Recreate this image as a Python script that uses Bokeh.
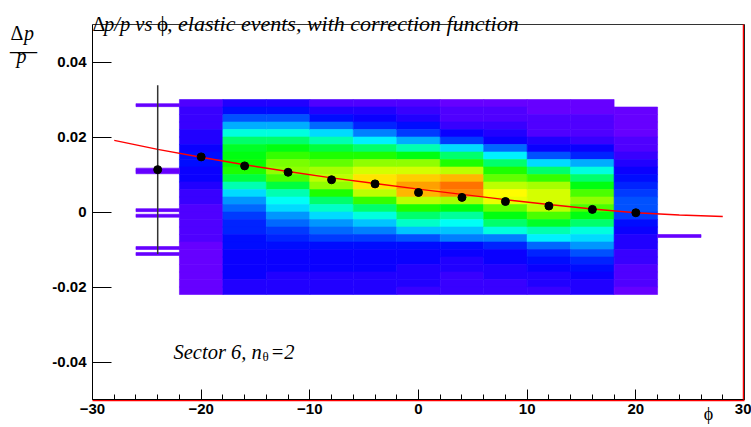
import colorsys

from bokeh.embed import file_html
from bokeh.models import ColumnDataSource, FixedTicker, Label, LinearAxis, Range1d
from bokeh.plotting import figure
from bokeh.resources import INLINE

# ---- 2D histogram: dp/p vs phi (4-degree phi bins, 0.002 dp/p bins) ----
col_left = [-22, -18, -14, -10, -6, -2, 2, 6, 10, 14, 18]
col_width = 4
dp_top = 0.030
dp_step = 0.002

# counts per dp/p bin, listed from dp/p = 0.030 down to -0.022
counts_m20 = [3, 5, 6, 6, 7, 8, 10, 11, 11, 10, 9, 7, 6, 5, 4, 4, 3, 3, 3, 2, 2, 2, 2, 2, 1, 1]
counts_m16 = [8, 12, 18, 25, 35, 45, 52, 55, 57, 58, 50, 40, 30, 24, 20, 16, 14, 13, 12, 11, 10, 10, 9, 9, 8, 7]
counts_m12 = [8, 12, 18, 25, 35, 45, 55, 60, 66, 68, 62, 50, 40, 33, 30, 24, 20, 16, 13, 11, 10, 9, 9, 8, 8, 7]
counts_m8 = [4, 7, 12, 20, 30, 40, 50, 58, 65, 70, 72, 68, 58, 45, 38, 30, 24, 20, 15, 12, 10, 10, 9, 8, 8, 7]
counts_m4 = [4, 7, 10, 14, 22, 32, 45, 58, 68, 75, 80, 80, 72, 60, 45, 35, 28, 22, 16, 12, 10, 9, 9, 8, 8, 7]
counts_0 = [3, 5, 8, 12, 16, 25, 40, 55, 68, 75, 82, 86, 84, 72, 58, 46, 38, 28, 18, 12, 10, 9, 8, 8, 7, 6]
counts_p4 = [2, 3, 4, 6, 9, 15, 30, 45, 58, 72, 84, 90, 88, 70, 55, 42, 34, 28, 22, 12, 10, 8, 7, 6, 6, 5]
counts_p8 = [2, 3, 3, 5, 7, 10, 20, 32, 45, 58, 65, 72, 78, 76, 65, 55, 45, 35, 22, 14, 10, 9, 8, 7, 6, 5]
counts_p12 = [2, 2, 3, 3, 4, 7, 10, 18, 30, 45, 60, 70, 75, 75, 72, 62, 52, 40, 32, 20, 14, 11, 9, 8, 7, 6]
counts_p16 = [2, 2, 3, 3, 4, 6, 9, 14, 25, 35, 45, 55, 62, 68, 62, 55, 45, 36, 30, 24, 18, 14, 12, 10, 8, 7]
counts_p20 = [0, 1, 1, 2, 2, 3, 4, 5, 7, 9, 11, 14, 16, 18, 17, 15, 12, 10, 8, 7, 6, 5, 4, 3, 3, 2]
columns = [counts_m20, counts_m16, counts_m12, counts_m8, counts_m4, counts_0,
           counts_p4, counts_p8, counts_p12, counts_p16, counts_p20]
count_max = 100

# single entries in the sparse outer bins
outer_left_phi = -26
outer_left_dp = [0.0285, 0.0113, 0.0106, 0.0005, -0.0010, -0.0096, -0.0112]
outer_right_phi = 22
outer_right_dp = [-0.0064]
fine_step = 0.0008

# ---- profile points and correction function ----
prof_phi = [-24, -20, -16, -12, -8, -4, 0, 4, 8, 12, 16, 20]
prof_dp = [0.0113, 0.0147, 0.0123, 0.0106, 0.0086, 0.0075, 0.0052, 0.0039, 0.0028, 0.0016, 0.0007, -0.0002]
prof_err = [0.0225, 0.0005, 0.0004, 0.0004, 0.0003, 0.0003, 0.0003, 0.0003, 0.0003, 0.0003, 0.0004, 0.0005]

fit_phi = [-28, -24, -20, -16, -12, -8, -4, 0, 4, 8, 12, 16, 20, 24, 28]
fit_dp = [0.0191, 0.0167, 0.0146, 0.0126, 0.0108, 0.0091, 0.0076, 0.0061, 0.0047,
          0.0033, 0.0020, 0.0008, -0.0002, -0.0008, -0.0012]

x_lo, x_hi = -30, 30
y_lo, y_hi = -0.05, 0.05
x_ticks = [-30, -20, -10, 0, 10, 20, 30]
x_minor = list(range(-30, 31, 2))
y_ticks = [-0.04, -0.02, 0.0, 0.02, 0.04]
y_tick_text = ["-0.04", "-0.02", "0", "0.02", "0.04"]

# pad geometry: the axes box is 652 x 375 px, with margins around it
W, H = 751, 427
M_LEFT, M_RIGHT, M_TOP, M_BOTTOM = 92, 7, 24, 28
PX_X = (W - M_LEFT - M_RIGHT) / (x_hi - x_lo)
PX_Y = (H - M_TOP - M_BOTTOM) / (y_hi - y_lo)


def palette_color(c):
    """Violet-to-red rainbow with 50 steps (low counts violet, high counts red)."""
    idx = min(49, int(49 * c / count_max))
    hue = (264.0 - idx * 264.0 / 49) / 360.0
    r, g, b = colorsys.hls_to_rgb(hue, 0.5, 1.0)
    return "#%02x%02x%02x" % (int(r * 255 + 0.5), int(g * 255 + 0.5), int(b * 255 + 0.5))


left, right, top, bottom, color = [], [], [], [], []
for x0, counts in zip(col_left, columns):
    for k, c in enumerate(counts):
        if c <= 0:
            continue
        left.append(x0)
        right.append(x0 + col_width)
        top.append(dp_top - k * dp_step)
        bottom.append(dp_top - (k + 1) * dp_step)
        color.append(palette_color(c))
for x0, entries in ((outer_left_phi, outer_left_dp), (outer_right_phi, outer_right_dp)):
    for v in entries:
        left.append(x0)
        right.append(x0 + col_width)
        top.append(v + fine_step / 2)
        bottom.append(v - fine_step / 2)
        color.append(palette_color(1))

cells = ColumnDataSource(dict(left=left, right=right, top=top, bottom=bottom, color=color))

# the plotting area spans the whole pad; the axes box sits inside it
p = figure(width=W, height=H,
           x_range=Range1d(x_lo - M_LEFT / PX_X, x_hi + M_RIGHT / PX_X),
           y_range=Range1d(y_lo - M_BOTTOM / PX_Y, y_hi + M_TOP / PX_Y),
           output_backend="svg", toolbar_location=None, title=None,
           x_axis_type=None, y_axis_type=None,
           min_border_left=0, min_border_right=0, min_border_top=0, min_border_bottom=0)
p.xgrid.visible = False
p.ygrid.visible = False
p.outline_line_color = None
p.background_fill_color = "white"
p.border_fill_color = "white"

p.quad(left="left", right="right", top="top", bottom="bottom", source=cells,
       fill_color="color", line_color="color", line_width=0.6)

# correction function
p.line(fit_phi, fit_dp, line_color="#ff0000", line_width=1.5)

# profile means with errors
seg = ColumnDataSource(dict(x=prof_phi, lo=[m - e for m, e in zip(prof_dp, prof_err)],
                            hi=[m + e for m, e in zip(prof_dp, prof_err)], y=prof_dp))
p.segment(x0="x", y0="lo", x1="x", y1="hi", source=seg, line_color="#333333", line_width=1.5)
p.scatter(x="x", y="y", source=seg, size=8, fill_color="black", line_color="black")


def edge_axis(loc, side, bnds, line_color, line_width=1.0):
    """Plain axis line (no ticks, no labels) used to close the axes box."""
    ax = LinearAxis(fixed_location=loc, bounds=bnds, ticker=FixedTicker(ticks=[]),
                    major_tick_in=0, major_tick_out=0, minor_tick_in=0, minor_tick_out=0,
                    major_label_text_font_size="0px", axis_line_color=line_color,
                    axis_line_width=line_width)
    p.add_layout(ax, side)


# red edges along the right and bottom of the box, drawn under the black ones
edge_axis(x_hi - 1.2 / PX_X, "right", (y_lo, y_hi), "#ff0000", 1.5)
edge_axis(y_lo - 0.8 / PX_Y, "below", (x_lo, x_hi), "#ff0000", 1.5)
edge_axis(y_hi, "above", (x_lo, x_hi), "#333333")
edge_axis(x_hi + 0.3 / PX_X, "right", (y_lo, y_hi), "#222222")


def style_labels(ax):
    ax.major_label_text_font = "Liberation Sans"
    ax.major_label_text_font_style = "bold"
    ax.major_label_text_font_size = "15px"
    ax.major_label_text_color = "black"
    ax.major_tick_line_color = "black"
    ax.minor_tick_line_color = "black"
    ax.axis_line_color = "black"


xa = LinearAxis(fixed_location=y_lo, bounds=(x_lo, x_hi),
                ticker=FixedTicker(ticks=x_ticks, minor_ticks=x_minor),
                major_tick_in=10, major_tick_out=0, minor_tick_in=5, minor_tick_out=0,
                major_label_standoff=4)
style_labels(xa)
p.add_layout(xa, "below")

ya = LinearAxis(fixed_location=x_lo, bounds=(y_lo, y_hi),
                ticker=FixedTicker(ticks=y_ticks, minor_ticks=[]),
                major_tick_in=19, major_tick_out=0, minor_tick_in=0, minor_tick_out=0,
                major_label_standoff=6,
                major_label_overrides={t: s for t, s in zip(y_ticks, y_tick_text)})
style_labels(ya)
p.add_layout(ya, "left")

serif = "Liberation Serif"


def text_label(px, py, text, size, italic=True, align="left"):
    """Label placed by its pixel offset from the axes box's top-left corner."""
    return Label(x=x_lo + px / PX_X, y=y_hi - py / PX_Y, text=text, text_font=serif,
                 text_font_style="italic" if italic else "normal", text_font_size=size,
                 text_align=align, text_baseline="alphabetic", text_color="black")


labels = [
    # title
    text_label(0, -1, "\u0394", "20px", italic=False),
    text_label(11.5, -1, "p/p vs", "20.5px"),
    text_label(64.5, -1, "\u03d5", "21px", italic=False),
    text_label(74.5, -1, ", elastic events, with correction function", "22px"),
    # y axis title as a fraction
    text_label(-82, 8, "\u0394", "20px", italic=False),
    text_label(-68.5, 8, "p", "20px"),
    text_label(-71, 31, "p", "20px", align="center"),
    text_label(-69, 25, "\u2014", "27px", italic=False, align="center"),
    # x axis title
    text_label(616, 389, "\u03d5", "18px", italic=False, align="center"),
    # sector annotation
    text_label(81, 327, "Sector 6, n", "20.5px"),
    text_label(170, 332, "\u03b8", "13px", italic=False),
    text_label(178, 327, "=2", "20.5px"),
]
for lab in labels:
    p.add_layout(lab)

open("out.html", "w").write(file_html(p, INLINE))
